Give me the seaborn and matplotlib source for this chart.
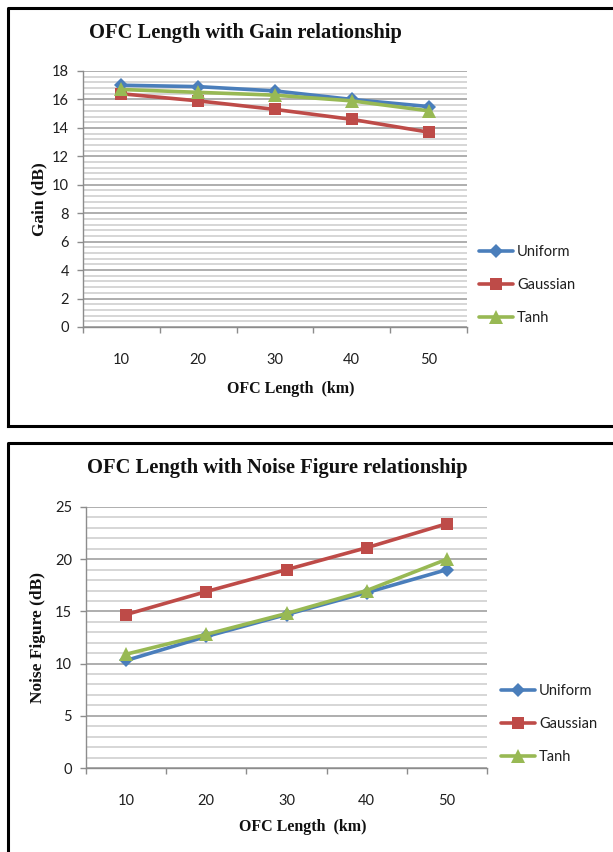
import matplotlib
matplotlib.use("Agg")
import matplotlib.pyplot as plt
from matplotlib.lines import Line2D
from matplotlib.ticker import MultipleLocator
import seaborn as sns
import pandas as pd

# OFC length categories (km)
lengths = [10, 20, 30, 40, 50]
series_names = ["Uniform", "Gaussian", "Tanh"]

# Gain (dB) per apodization profile
gain_uniform = [17.0, 16.9, 16.6, 16.0, 15.5]
gain_gaussian = [16.4, 15.9, 15.3, 14.6, 13.7]
gain_tanh = [16.7, 16.5, 16.3, 15.9, 15.2]

# Noise figure (dB) per apodization profile
nf_uniform = [10.3, 12.6, 14.7, 16.8, 19.0]
nf_gaussian = [14.7, 16.9, 19.0, 21.1, 23.4]
nf_tanh = [10.9, 12.8, 14.8, 17.0, 20.0]

palette = {"Uniform": "#4A7EBB", "Gaussian": "#BE4B48", "Tanh": "#98B954"}
markers = {"Uniform": "D", "Gaussian": "s", "Tanh": "^"}
marker_sizes = {"Uniform": 7, "Gaussian": 9, "Tanh": 9.5}


def long_frame(values):
    rows = []
    for name, vals in zip(series_names, values):
        for km, v in zip(lengths, vals):
            rows.append({"km": km, "value": v, "series": name})
    return pd.DataFrame(rows)


sns.set_style("white")
plt.rcParams["font.family"] = ["Lato", "DejaVu Sans"]

W, H = 613, 852
fig = plt.figure(figsize=(W / 100, H / 100), dpi=100)
fig.patch.set_facecolor("white")


def px_axes(x0, y_top, x1, y_bottom):
    return fig.add_axes([x0 / W, (H - y_bottom) / H, (x1 - x0) / W, (y_bottom - y_top) / H])


def draw_panel(ax, df, ymax, major, minor, ylabel, tick_pad):
    for name in series_names:
        sub = df[df["series"] == name]
        sns.lineplot(data=sub, x="km", y="value", color=palette[name],
                     marker=markers[name], markersize=marker_sizes[name],
                     markeredgewidth=0, linewidth=2.6, label=name, ax=ax,
                     clip_on=False, zorder=3)
    ax.set_xlim(5, 55)
    ax.set_ylim(0, ymax)
    ax.yaxis.set_major_locator(MultipleLocator(major))
    ax.yaxis.set_minor_locator(MultipleLocator(minor))
    ax.set_xticks(lengths)
    ax.set_xticks([5, 15, 25, 35, 45, 55], minor=True)
    ax.grid(which="major", axis="y", color="#a8a8a8", linewidth=1.3, zorder=0)
    ax.grid(which="minor", axis="y", color="#cfcfcf", linewidth=1.2, zorder=0)
    ax.grid(which="both", axis="x", visible=False)
    for side in ("top", "right"):
        ax.spines[side].set_visible(False)
    for side in ("left", "bottom"):
        ax.spines[side].set_color("#8c8c8c")
        ax.spines[side].set_linewidth(1.0)
    ax.tick_params(axis="y", which="major", direction="out", length=4, width=1,
                   color="#8c8c8c", labelsize=10.5, labelcolor="#1f1f1f", pad=6, left=True)
    ax.tick_params(axis="y", which="minor", length=0, left=False)
    ax.tick_params(axis="x", which="major", length=0, labelsize=10.5,
                   labelcolor="#1f1f1f", pad=tick_pad, bottom=True)
    ax.tick_params(axis="x", which="minor", direction="out", length=4, width=1,
                   color="#8c8c8c", bottom=True)
    ax.set_ylabel(ylabel, fontsize=12.5, fontweight="bold",
                  family=["Liberation Serif"], color="#111111")
    ax.set_xlabel("OFC Length  (km)", fontsize=11.5, fontweight="bold",
                  family=["Liberation Serif"], color="#111111")
    ax.set_facecolor("white")


# Top: gain vs OFC length
ax1 = px_axes(83, 71, 467, 327)
draw_panel(ax1, long_frame([gain_uniform, gain_gaussian, gain_tanh]),
           18, 2, 0.4, "Gain (dB)", 19)
ax1.yaxis.set_label_coords(-0.094, 0.5)
ax1.xaxis.set_label_coords(0.54, -0.21)
h, l = ax1.get_legend_handles_labels()
ax1.legend(h, l, loc="center left", bbox_to_anchor=(479 / W, (H - 285) / H),
           bbox_transform=fig.transFigure, frameon=False, fontsize=10.5,
           handlelength=2.3, handletextpad=0.3, labelspacing=1.28,
           borderpad=0, borderaxespad=0, labelcolor="#1f1f1f")

# Bottom: noise figure vs OFC length
ax2 = px_axes(86, 507, 487, 768)
draw_panel(ax2, long_frame([nf_uniform, nf_gaussian, nf_tanh]),
           25, 5, 1, "Noise Figure (dB)", 19)
ax2.yaxis.set_label_coords(-0.1, 0.5)
ax2.xaxis.set_label_coords(0.54, -0.195)
h, l = ax2.get_legend_handles_labels()
ax2.legend(h, l, loc="center left", bbox_to_anchor=(501 / W, (H - 724) / H),
           bbox_transform=fig.transFigure, frameon=False, fontsize=10.5,
           handlelength=2.3, handletextpad=0.3, labelspacing=1.3,
           borderpad=0, borderaxespad=0, labelcolor="#1f1f1f")

# Chart titles
fig.text(245 / W, (H - 33) / H, "OFC Length with Gain relationship",
         ha="center", va="center", fontsize=14.8, fontweight="bold",
         family=["Liberation Serif"], color="#111111")
fig.text(277 / W, (H - 468) / H, "OFC Length with Noise Figure relationship",
         ha="center", va="center", fontsize=14.8, fontweight="bold",
         family=["Liberation Serif"], color="#111111")


# Black frames around each chart
def frame_line(xs, ys):
    fig.add_artist(Line2D([x / W for x in xs], [(H - y) / H for y in ys],
                          color="black", linewidth=2.2, solid_capstyle="projecting"))


frame_line([8, 8, 640], [426, 8, 8])
frame_line([8, 640], [426, 426])
frame_line([8, 8, 640], [870, 443, 443])

fig.savefig("out.png", dpi=100, facecolor="white")
